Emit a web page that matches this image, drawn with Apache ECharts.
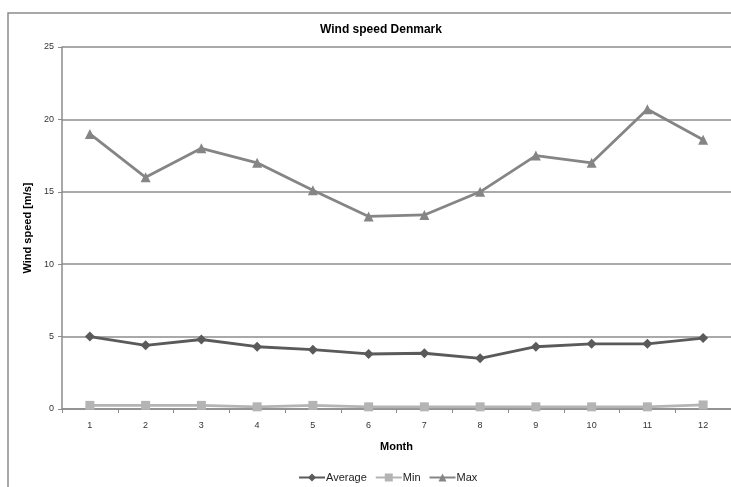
<!DOCTYPE html>
<html>
<head>
<meta charset="utf-8">
<script src="https://cdn.jsdelivr.net/npm/echarts@6/dist/echarts.min.js"></script>
<style>
  html, body { margin: 0; padding: 0; background: #fff; }
  #chart { width: 731px; height: 487px; }
</style>
</head>
<body>
<div id="chart"></div>
<script>
// Monthly wind speed in Denmark [m/s]
const months = ['1', '2', '3', '4', '5', '6', '7', '8', '9', '10', '11', '12'];
const averageSpeed = [5.0, 4.4, 4.8, 4.3, 4.1, 3.8, 3.85, 3.5, 4.3, 4.5, 4.5, 4.9];
const minSpeed = [0.25, 0.25, 0.25, 0.15, 0.25, 0.15, 0.15, 0.15, 0.15, 0.15, 0.15, 0.28];
const maxSpeed = [19.0, 16.0, 18.0, 17.0, 15.1, 13.3, 13.4, 15.0, 17.5, 17.0, 20.7, 18.6];
const yTicks = { min: 0, max: 25, interval: 5 };

const FONT = "'Liberation Sans', Arial, sans-serif";

const chart = echarts.init(document.getElementById('chart'));

function lineSeries(name, data, color, symbol, size) {
  return {
    name: name,
    type: 'line',
    data: data,
    symbol: symbol,
    symbolSize: size,
    itemStyle: { color: color },
    lineStyle: { color: color, width: 2.8 },
    emphasis: { disabled: true },
    animation: false
  };
}

chart.setOption({
  animation: false,
  textStyle: { fontFamily: FONT },
  graphic: [{
    type: 'rect',
    shape: { x: 8, y: 13, width: 760, height: 500 },
    style: { fill: 'none', stroke: '#8c8c8c', lineWidth: 1.5 },
    z: -1
  }],
  title: {
    text: 'Wind speed Denmark',
    left: 376,
    textAlign: 'center',
    top: 19,
    textStyle: { fontSize: 12, fontWeight: 'bold', color: '#000' }
  },
  legend: {
    left: 293,
    top: 467,
    itemWidth: 26,
    itemHeight: 10,
    itemGap: 8,
    textStyle: { fontSize: 11, color: '#222', padding: [0, 0, 0, -4] },
    data: ['Average', 'Min', 'Max']
  },
  grid: { left: 62, top: 47, right: -2, bottom: 78, containLabel: false },
  xAxis: {
    type: 'category',
    data: months,
    boundaryGap: true,
    name: 'Month',
    nameLocation: 'middle',
    nameGap: 32,
    nameTextStyle: { fontSize: 11, fontWeight: 'bold', color: '#000' },
    axisLine: { lineStyle: { color: '#8c8c8c', width: 1.5 } },
    axisTick: { show: true, length: 4, alignWithLabel: false, lineStyle: { color: '#8c8c8c', width: 1 } },
    axisLabel: { fontSize: 9, color: '#333', margin: 12 },
    splitLine: { show: false }
  },
  yAxis: {
    type: 'value',
    min: yTicks.min,
    max: yTicks.max,
    interval: yTicks.interval,
    name: 'Wind speed [m/s]',
    nameLocation: 'middle',
    nameRotate: 90,
    nameGap: 24,
    nameTextStyle: { fontSize: 11, fontWeight: 'bold', color: '#000' },
    axisLine: { show: true, lineStyle: { color: '#8c8c8c', width: 1.5 } },
    axisTick: { show: true, length: 4, lineStyle: { color: '#8c8c8c', width: 1 } },
    axisLabel: { fontSize: 9, color: '#333', margin: 8 },
    splitLine: { show: true, lineStyle: { color: '#8c8c8c', width: 1.5 } }
  },
  series: [
    lineSeries('Average', averageSpeed, '#5a5a5a', 'diamond', 10),
    lineSeries('Min', minSpeed, '#b4b4b4', 'rect', 9),
    lineSeries('Max', maxSpeed, '#858585', 'triangle', 10)
  ]
});
</script>
</body>
</html>
